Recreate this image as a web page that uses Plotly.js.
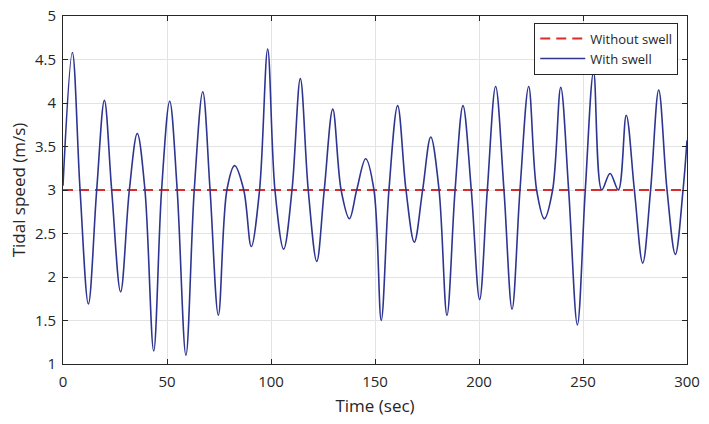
<!DOCTYPE html>
<html>
<head>
<meta charset="utf-8">
<script src="https://cdn.plot.ly/plotly-3.0.1.min.js"></script>
<style>html,body{margin:0;padding:0;background:#fff;}#chart{width:709px;height:424px;}</style>
</head>
<body>
<div id="chart"></div>
<script>
// Time (sec) and tidal speed (m/s): start, peaks, troughs and 3 m/s crossings
const timeSec = [0, 4.5, 8.2, 12.2, 16.2, 19.9, 23.4, 27.7, 31.9, 35.7, 39.4, 43.6, 47.4, 51.3, 54.9, 59.1, 63.1, 67.2, 70.7, 74.7, 78.8, 82.5, 86.9, 90.5, 94.5, 98.4, 101.9, 106.1, 110.1, 114.1, 117.9, 122.0, 125.6, 129.7, 133.7, 137.7, 141.2, 145.5, 149.5, 153.0, 156.7, 160.9, 164.9, 168.9, 172.9, 176.8, 180.8, 184.6, 188.5, 192.3, 196.3, 200.3, 204.0, 208.0, 212.0, 215.9, 219.7, 223.9, 227.7, 231.4, 235.4, 239.3, 243.1, 247.3, 251.1, 255.1, 259.0, 263.0, 267.0, 270.8, 274.7, 278.7, 282.5, 286.4, 290.4, 294.4, 298.1, 300];
const withSwell = [3.05, 4.58, 3, 1.69, 3, 4.03, 3, 1.83, 3, 3.65, 3, 1.15, 3, 4.02, 3, 1.10, 3, 4.13, 3, 1.56, 3, 3.28, 3, 2.35, 3, 4.62, 3, 2.32, 3, 4.28, 3, 2.18, 3, 3.93, 3, 2.67, 3, 3.36, 3, 1.50, 3, 3.97, 3, 2.40, 3, 3.61, 3, 1.56, 3, 3.97, 3, 1.74, 3, 4.19, 3, 1.63, 3, 4.19, 3, 2.67, 3, 4.18, 3, 1.45, 3, 4.36, 3, 3.19, 3, 3.86, 3, 2.16, 3, 4.15, 3, 2.26, 3, 3.57];
const noSwellTime = [0, 300];
const withoutSwell = [3, 3];
const xTicks = [0, 50, 100, 150, 200, 250, 300];
const yTicks = [1, 1.5, 2, 2.5, 3, 3.5, 4, 4.5, 5];

const FONT = 'Open Sans, Noto Sans, sans-serif';
const INK = '#262626';

const traces = [
  {x: noSwellTime, y: withoutSwell, name: 'Without swell', mode: 'lines',
   line: {color: '#d62d2d', width: 2, dash: '10px,6px'}},
  {x: timeSec, y: withSwell, name: 'With swell', mode: 'lines',
   line: {color: '#2e3590', width: 1.6, shape: 'spline', smoothing: 1}}
];

const axisCommon = {
  showline: true, linecolor: INK, linewidth: 1, mirror: 'ticks',
  ticks: 'inside', ticklen: 5, tickcolor: INK, tickwidth: 1,
  showgrid: true, gridcolor: '#e3e3e3', gridwidth: 1, zeroline: false,
  tickfont: {family: FONT, size: 15, color: INK}
};

const layout = {
  width: 709, height: 424,
  margin: {l: 63, r: 22, t: 16, b: 60},
  paper_bgcolor: '#fff', plot_bgcolor: '#fff',
  showlegend: true,
  xaxis: Object.assign({}, axisCommon, {
    range: [0, 300], tickvals: xTicks, ticktext: xTicks.map(String),
    ticklabelstandoff: 4,
    title: {text: 'Time (sec)', font: {family: FONT, size: 17, color: INK}, standoff: 10}
  }),
  yaxis: Object.assign({}, axisCommon, {
    range: [1, 5], tickvals: yTicks, ticktext: yTicks.map(String),
    ticklabelstandoff: 3,
    title: {text: 'Tidal speed (m/s)', font: {family: FONT, size: 17, color: INK}, standoff: 4}
  }),
  legend: {
    x: 0.986, y: 0.981, xanchor: 'right', yanchor: 'top',
    bgcolor: '#fff', bordercolor: INK, borderwidth: 1,
    font: {family: FONT, size: 13, color: INK},
    itemwidth: 45, tracegroupgap: 0
  }
};

Plotly.newPlot('chart', traces, layout, {displayModeBar: false, staticPlot: true});
</script>
</body>
</html>
